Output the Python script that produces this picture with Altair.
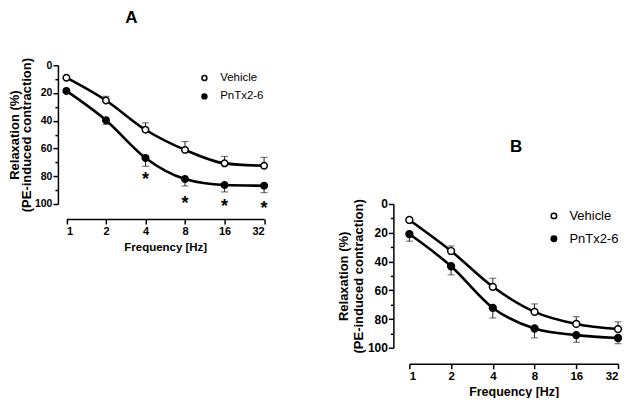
import altair as alt
import pandas as pd

# ---------------- data ----------------
freqs = [1, 2, 4, 8, 16, 32]
groups = ["Vehicle", "PnTx2-6"]

# Panel A
a_vehicle = [9.0, 25.4, 46.5, 61.0, 70.7, 72.4]
a_vehicle_err = [1.0, 3.0, 5.0, 6.0, 5.0, 6.0]
a_pntx = [18.5, 39.6, 66.8, 82.0, 86.3, 86.8]
a_pntx_err = [1.0, 3.0, 6.0, 5.0, 5.0, 5.0]
a_star_freqs = [4, 8, 16, 32]
a_star_y = [79.4, 96.3, 98.6, 99.8]

# Panel B
b_vehicle = [11.1, 32.7, 57.6, 75.0, 83.4, 87.0]
b_vehicle_err = [1.5, 3.5, 6.0, 5.5, 5.0, 5.0]
b_pntx = [20.9, 43.3, 72.3, 86.6, 91.2, 93.2]
b_pntx_err = [5.0, 6.0, 7.0, 6.5, 5.0, 4.0]

y_ticks = [0, 20, 40, 60, 80, 100]
y_minor = [10, 30, 50, 70, 90]
y_title = ["Relaxation (%)", "(PE-induced contraction)"]
x_title = "Frequency [Hz]"

# panel letters (position in data units of each panel)
a_label = {"label": "A", "freq": 3.12, "y": -39.6}
b_label = {"label": "B", "freq": 5.9, "y": -44.9}

FONT = "Liberation Sans"


def panel_df(veh, veh_err, pn, pn_err):
    rows = []
    for g, means, errs, sign in [("Vehicle", veh, veh_err, -1), ("PnTx2-6", pn, pn_err, 1)]:
        for f, m, e in zip(freqs, means, errs):
            rows.append({"freq": f, "group": g, "mean": m, "err_end": m + sign * e})
    return pd.DataFrame(rows)


def make_panel(df, stars, label, xr, yr, w, h, st):
    xs = alt.Scale(type="log", base=2, domain=[1, 32], range=xr)
    ys = alt.Scale(domain=[0, 100], range=yr)
    xax = alt.Axis(values=freqs, format="d", title=x_title, grid=False,
                   tickSize=5, labelPadding=st["xlabpad"], titlePadding=st["xtitpad"],
                   labelFontSize=st["xlab"], titleFontSize=st["xtit"])
    yax = alt.Axis(values=y_ticks, orient="left", title=y_title, grid=False,
                   tickSize=5, labelPadding=1, titlePadding=st["ytitpad"],
                   labelFontSize=st["ylab"], titleFontSize=st["ytit"],
                   titleLineHeight=st["lh"])

    def X(f):
        return alt.X(f"{f}:Q", scale=xs, axis=xax)

    def Y(f):
        return alt.Y(f"{f}:Q", scale=ys, axis=yax)

    base = alt.Chart(df)
    err = base.mark_rule(color="#222222", strokeWidth=1).encode(
        x=X("freq"), y=Y("mean"), y2="err_end")
    cap = base.mark_tick(color="#222222", thickness=1, size=7, orient="horizontal").encode(
        x=X("freq"), y=Y("err_end"))
    line = base.mark_line(color="black", strokeWidth=2.6, interpolate="monotone").encode(
        x=X("freq"), y=Y("mean"), detail="group:N")
    pts = base.mark_point(shape="circle", filled=True, size=st["pt"], stroke="black",
                          strokeWidth=1.5, opacity=1).encode(
        x=X("freq"), y=Y("mean"),
        fill=alt.Fill("group:N", scale=alt.Scale(domain=groups, range=["white", "black"]),
                      legend=alt.Legend(title=None, orient="none",
                                        legendX=st["lx"], legendY=st["ly"],
                                        labelFontSize=st["leg"], labelFont=FONT,
                                        symbolType="circle", symbolSize=st["lsym"],
                                        symbolStrokeColor="black", symbolStrokeWidth=1.5,
                                        labelOffset=st["loff"], rowPadding=st["rowpad"],
                                        padding=0)))
    layers = [err, cap, line, pts]
    if stars is not None:
        layers.append(alt.Chart(stars).mark_text(text="*", fontSize=18, fontWeight="bold",
                                                  font=FONT, baseline="alphabetic", dy=10).encode(
            x=X("freq"), y=Y("y")))
    layers.append(alt.Chart(label).mark_text(fontSize=17, fontWeight="bold", font=FONT,
                                             baseline="top").encode(
        x=X("freq"), y=Y("y"), text="label:N"))
    inner = alt.layer(*layers)
    minor = alt.Chart(df).mark_point(opacity=0).encode(
        y=alt.Y("mean:Q", scale=ys,
                axis=alt.Axis(values=y_minor, orient="left", labels=False, tickSize=3,
                              domain=False, grid=False, title=None)))
    return alt.layer(minor, inner).resolve_axis(y="independent").properties(width=w, height=h)


dfA = panel_df(a_vehicle, a_vehicle_err, a_pntx, a_pntx_err)
dfB = panel_df(b_vehicle, b_vehicle_err, b_pntx, b_pntx_err)
starsA = pd.DataFrame({"freq": a_star_freqs, "y": a_star_y})

stA = dict(xlabpad=2, xtitpad=5, xlab=11, xtit=11.5, ylab=10.5, ytit=13, ytitpad=1, lh=12,
           pt=42, lx=141, ly=62, leg=11.5, lsym=24, loff=10, rowpad=5.5)
stB = dict(xlabpad=2, xtitpad=3, xlab=11.5, xtit=12.5, ylab=12, ytit=13, ytitpad=2, lh=15,
           pt=46, lx=154.3, ly=199.4, leg=13, lsym=30, loff=9, rowpad=9)

panelA = make_panel(dfA, starsA, pd.DataFrame([a_label]), [8.5, 206.5], [55, 194], 206.5, 209, stA)
panelB = make_panel(dfB, None, pd.DataFrame([b_label]), [16, 225], [194, 338], 225, 354, stB)

chart = alt.hconcat(panelA, panelB, spacing=129, bounds="flush").resolve_scale(
    x="independent", y="independent", fill="independent"
).resolve_legend(fill="independent").properties(padding=0).configure_view(
    strokeWidth=0
).configure_axis(
    labelFont=FONT, titleFont=FONT, labelFontWeight="bold", titleFontWeight="bold",
    labelColor="black", titleColor="black", domainColor="black", tickColor="black",
    domainWidth=1.5, tickWidth=1.5
)

chart.save("out.html", embed_options={"renderer": "svg", "actions": False})
